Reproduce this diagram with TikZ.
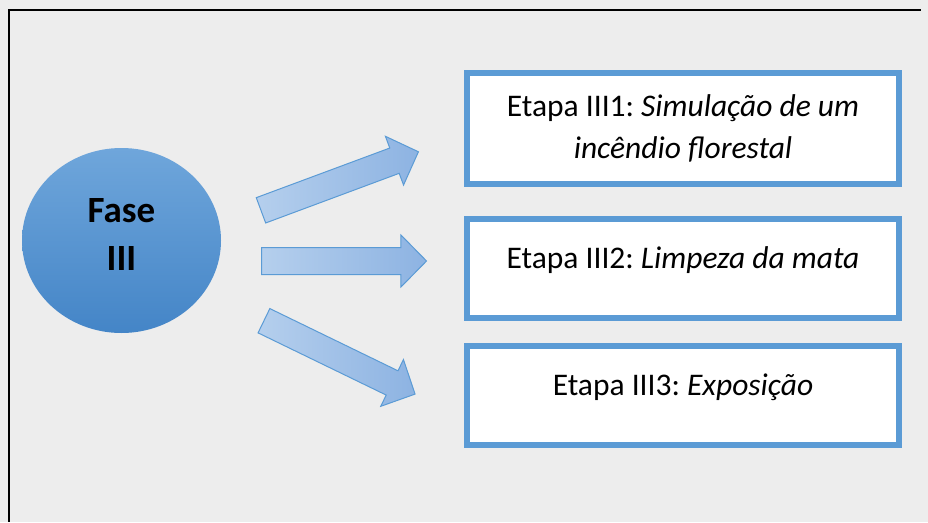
\documentclass[tikz,border=0pt]{standalone}
\usepackage{fontspec}
\setmainfont{Carlito}
\frenchspacing
\usetikzlibrary{shapes.geometric,shapes.arrows}

\definecolor{panelgray}{RGB}{237,237,237}
\definecolor{accentblue}{RGB}{91,155,213}
\definecolor{faseTop}{RGB}{111,166,219}
\definecolor{faseBottom}{RGB}{68,133,199}
\definecolor{arrowLight}{RGB}{181,207,237}
\definecolor{arrowDark}{RGB}{141,179,226}

\tikzset{
  fase/.style={ellipse, inner sep=0pt, minimum width=199pt, minimum height=185pt,
    top color=faseTop, bottom color=faseBottom, align=center,
    font=\bfseries\fontsize{37}{48}\selectfont, text depth=12pt},
  etapa/.style={rectangle, draw=accentblue, line width=6pt, fill=white,
    minimum width=432pt, minimum height=99pt, inner sep=0pt, align=center,
    font=\fontsize{31.5}{42}\selectfont},
  oneline/.style={text height=21pt, text depth=21pt},
  blockarrow/.style={single arrow, draw=accentblue, line width=1pt,
    left color=arrowLight, right color=arrowDark, inner xsep=0pt, inner ysep=13pt,
    single arrow head extend=12.5pt, single arrow tip angle=91, anchor=tail}
}

\begin{document}
\begin{tikzpicture}[x=1pt, y=-1pt]
    \useasboundingbox (0,0) rectangle (928,522);
    \fill[panelgray] (0,0) rectangle (928,522);
    % frame edges, left and top only
    \fill[black] (7.8,8.8) rectangle (10.2,522);
    \fill[black] (7.8,8.8) rectangle (921,11.2);

    % the phase
    \node[fase] (fase) at (121.5,240.5) {Fase\\III};

    % its three steps
    \node[etapa, minimum height=111pt] (etapa1) at (683,128) {Etapa III1: \textit{Simulação de um}\\\textit{incêndio florestal}};
    \node[etapa, oneline] (etapa2) at (683,268.2) {Etapa III2: \textit{Limpeza da mata}};
    \node[etapa, oneline] (etapa3) at (683,395.5) {Etapa III3: \textit{Exposição}};

    % block arrows, placed by their tails
    \node[blockarrow, minimum height=168pt, rotate=20.4] (seta1) at (260.5,210.5) {};
    \node[blockarrow, minimum height=165pt] (seta2) at (261,261) {};
    \node[blockarrow, minimum height=168pt, rotate=-25.9] (seta3) at (263.5,320.5) {};

\end{tikzpicture}
\end{document}
